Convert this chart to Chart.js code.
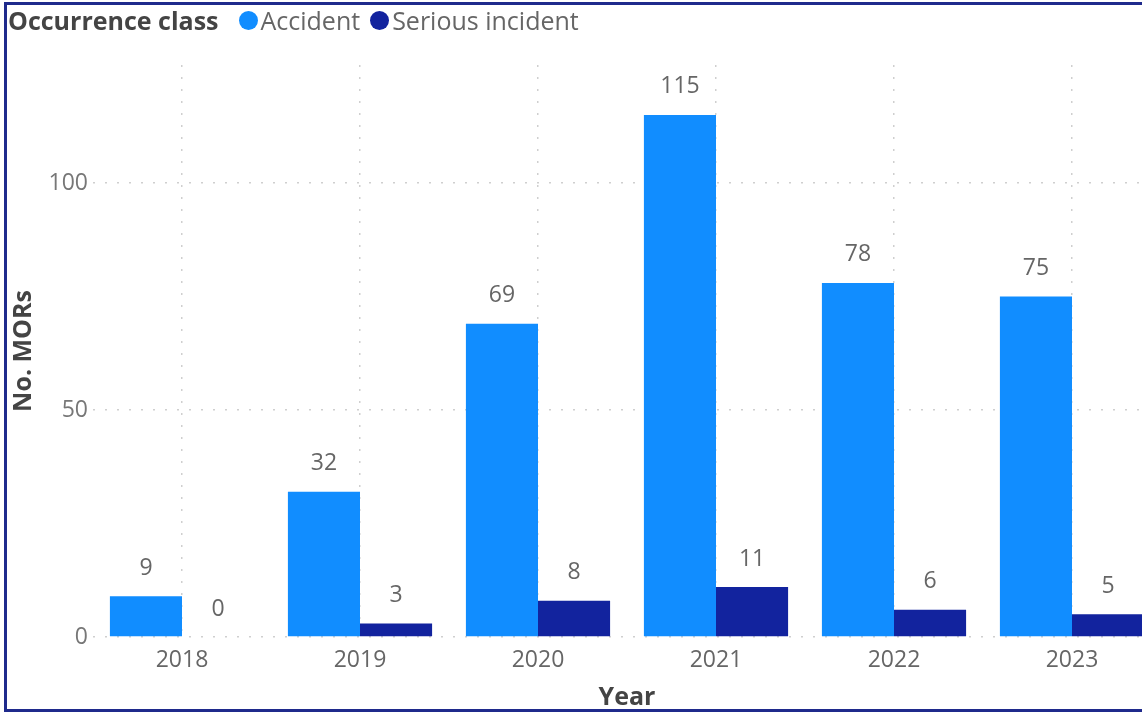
<!DOCTYPE html>
<html>
<head>
<meta charset="utf-8">
<script src="https://cdn.jsdelivr.net/npm/chart.js@4"></script>
<style>
  html, body { margin: 0; padding: 0; background: #fff; overflow: hidden; }
  body { width: 1142px; height: 713px; position: relative; font-family: "Open Sans", "Noto Sans", sans-serif; }
  #frame {
    position: absolute; left: 4px; top: 2px; width: 1200px; height: 704px;
    border: 3px solid #1f2a8c;
  }
  #wrap { position: absolute; left: 0; top: 0; width: 1170px; height: 713px; }
  #legend {
    position: absolute; left: 8px; top: 3px; display: flex; align-items: center;
    font-size: 25px; color: #666; white-space: nowrap;
  }
  #legend .title { font-weight: 700; color: #444; margin-right: 20px; }
  #legend .item { display: flex; align-items: center; margin-right: 10px; }
  #legend .dot { width: 19px; height: 19px; border-radius: 50%; margin-right: 3px; }
</style>
</head>
<body>
<div id="frame"></div>
<div id="wrap"><canvas id="chart" width="1170" height="713"></canvas></div>
<div id="legend"><span class="title">Occurrence class</span></div>
<script>
const years = ["2018", "2019", "2020", "2021", "2022", "2023"];
const accidents = [9, 32, 69, 115, 78, 75];
const seriousIncidents = [0, 3, 8, 11, 6, 5];
const seriesNames = ["Accident", "Serious incident"];
const seriesColors = ["#118DFF", "#12239E"];
const yTicks = [0, 50, 100];

const FONT = "'Open Sans', 'Noto Sans', sans-serif";

// value labels above each bar
const barValues = {
  id: "barValues",
  afterDatasetsDraw(chart) {
    const ctx = chart.ctx;
    ctx.save();
    ctx.font = "23px " + FONT;
    ctx.fillStyle = "#666";
    ctx.textAlign = "center";
    ctx.textBaseline = "middle";
    chart.data.datasets.forEach((ds, i) => {
      chart.getDatasetMeta(i).data.forEach((bar, j) => {
        ctx.fillText(String(ds.data[j]), bar.x, bar.y - 28);
      });
    });
    ctx.restore();
  },
};

const dotted = { display: false, dash: [2, 10] };
const gridStyle = { color: "#cfcfcf", lineWidth: 1.5, drawTicks: false };

const chart = new Chart(document.getElementById("chart"), {
  type: "bar",
  data: {
    labels: years,
    datasets: [
      { label: seriesNames[0], data: accidents, backgroundColor: seriesColors[0] },
      { label: seriesNames[1], data: seriousIncidents, backgroundColor: seriesColors[1] },
    ],
  },
  options: {
    responsive: false,
    animation: false,
    layout: { padding: { top: 65, left: 0, right: 9, bottom: 0 } },
    datasets: { bar: { categoryPercentage: 0.81, barPercentage: 1 } },
    plugins: { legend: { display: false }, tooltip: { enabled: false } },
    scales: {
      x: {
        grid: { ...gridStyle, offset: false },
        border: dotted,
        ticks: { color: "#666", padding: 10, font: { family: FONT, size: 23 } },
        title: {
          display: true, text: "Year", color: "#444",
          font: { family: FONT, size: 25, weight: "bold" }, padding: { top: 0, bottom: 0 },
        },
        afterFit(scale) { scale.height = 76; },
      },
      y: {
        min: 0,
        max: 126,
        grid: gridStyle,
        border: dotted,
        afterBuildTicks(scale) { scale.ticks = yTicks.map((v) => ({ value: v })); },
        ticks: { color: "#777", padding: 5, font: { family: FONT, size: 23 } },
        title: {
          display: true, text: "No. MORs", color: "#444",
          font: { family: FONT, size: 25, weight: "bold" }, padding: { top: 9, bottom: 0 },
        },
        afterFit(scale) { scale.width = 93; },
      },
    },
  },
  plugins: [barValues],
});

// legend entries after the title
const legend = document.getElementById("legend");
chart.data.datasets.forEach((ds) => {
  const item = document.createElement("span");
  item.className = "item";
  const dot = document.createElement("span");
  dot.className = "dot";
  dot.style.background = ds.backgroundColor;
  item.appendChild(dot);
  item.appendChild(document.createTextNode(ds.label));
  legend.appendChild(item);
});
</script>
</body>
</html>
